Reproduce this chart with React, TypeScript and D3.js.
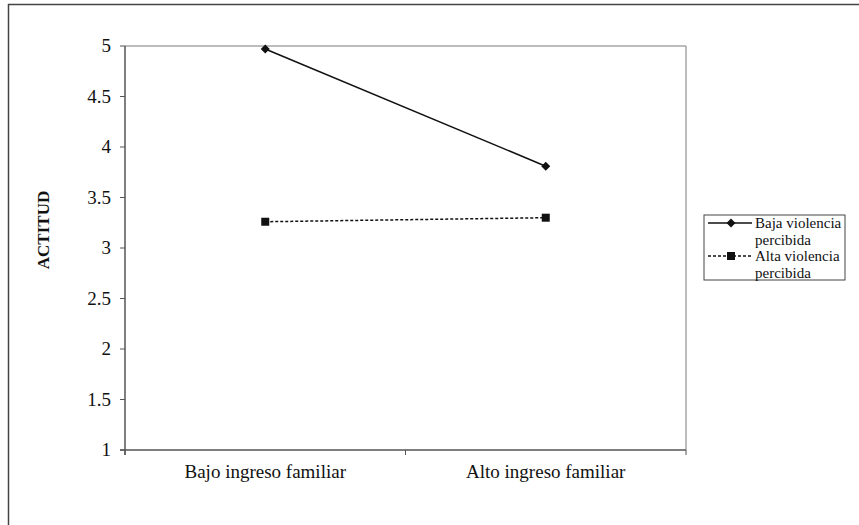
import * as d3 from 'd3';

const CATEGORIES = ['Bajo ingreso familiar', 'Alto ingreso familiar'];
const BAJA_VIOLENCIA = [4.97, 3.81];
const ALTA_VIOLENCIA = [3.26, 3.3];
const Y_TICKS = [1, 1.5, 2, 2.5, 3, 3.5, 4, 4.5, 5];
const SERIES = [
  { name: ['Baja violencia', 'percibida'], values: BAJA_VIOLENCIA, dash: null, marker: 'diamond' },
  { name: ['Alta violencia', 'percibida'], values: ALTA_VIOLENCIA, dash: '3 2', marker: 'square' },
];

const W = 859;
const H = 525;
const PLOT = { left: 125, right: 686, top: 46, bottom: 450 };
const INK = '#111111';
const FRAME = '#7a7a7a';
const FONT = "'Liberation Serif', 'DejaVu Serif', serif";

function Marker({ kind, x, y }: { kind: string; x: number; y: number }) {
  if (kind === 'square') {
    return <rect x={x - 4} y={y - 4} width={8} height={8} fill={INK} />;
  }
  return <path d={`M${x},${y - 4.5}L${x + 4.5},${y}L${x},${y + 4.5}L${x - 4.5},${y}Z`} fill={INK} />;
}

export default function App() {
  const x = d3.scaleBand().domain(CATEGORIES).range([PLOT.left, PLOT.right]).padding(0);
  const y = d3.scaleLinear().domain([1, 5]).range([PLOT.bottom, PLOT.top]);
  const cx = (c: string) => x(c)! + x.bandwidth() / 2;
  const line = d3
    .line<number>()
    .x((_, i) => cx(CATEGORIES[i]))
    .y((v) => y(v));

  const bandEdges = [...CATEGORIES.map((c) => x(c)!), PLOT.right];

  const legend = { x: 704, y: 215, w: 141, h: 65 };

  return (
    <svg
      width={W}
      height={H}
      style={{ position: 'absolute', left: 0, top: 0, background: '#fff', fontFamily: FONT }}
    >
      {/* outer chart frame, cut off at right and bottom */}
      <line x1={8.5} y1={4} x2={8.5} y2={H} stroke="#444" strokeWidth={1.5} />
      <line x1={8} y1={4.5} x2={W} y2={4.5} stroke="#444" strokeWidth={1.5} />

      {/* plot frame */}
      <line x1={PLOT.left} y1={PLOT.top} x2={PLOT.right} y2={PLOT.top} stroke={FRAME} strokeWidth={1} />
      <line x1={PLOT.right} y1={PLOT.top} x2={PLOT.right} y2={PLOT.bottom} stroke={FRAME} strokeWidth={1} />

      {/* y axis */}
      <line x1={PLOT.left} y1={PLOT.top} x2={PLOT.left} y2={PLOT.bottom + 5} stroke="#555" strokeWidth={1.5} />
      {Y_TICKS.map((t) => (
        <g key={t}>
          <line x1={PLOT.left - 5} x2={PLOT.left} y1={y(t)} y2={y(t)} stroke="#555" strokeWidth={1} />
          <text x={PLOT.left - 14} y={y(t) + 6} textAnchor="end" fontSize={19} fill={INK}>
            {t}
          </text>
        </g>
      ))}

      {/* x axis */}
      <line x1={PLOT.left - 5} y1={PLOT.bottom} x2={PLOT.right} y2={PLOT.bottom} stroke="#555" strokeWidth={1.5} />
      {bandEdges.map((e, i) => (
        <line key={i} x1={e} x2={e} y1={PLOT.bottom} y2={PLOT.bottom + 5} stroke="#555" strokeWidth={1} />
      ))}
      {CATEGORIES.map((c) => (
        <text key={c} x={cx(c)} y={PLOT.bottom + 28} textAnchor="middle" fontSize={19} fill={INK}>
          {c}
        </text>
      ))}

      <text
        transform={`translate(49,${(PLOT.top + PLOT.bottom) / 2 - 18}) rotate(-90)`}
        textAnchor="middle"
        fontSize={17}
        fontWeight="bold"
        fill={INK}
      >
        ACTITUD
      </text>

      {/* series */}
      {SERIES.map((s) => (
        <g key={s.name[0]}>
          <path
            d={line(s.values)!}
            fill="none"
            stroke={INK}
            strokeWidth={1.5}
            strokeDasharray={s.dash ?? undefined}
          />
          {s.values.map((v, i) => (
            <Marker key={i} kind={s.marker} x={cx(CATEGORIES[i])} y={y(v)} />
          ))}
        </g>
      ))}

      {/* legend */}
      <rect x={legend.x} y={legend.y} width={legend.w} height={legend.h} fill="#fff" stroke="#444" strokeWidth={1} />
      {SERIES.map((s, i) => {
        const ly = legend.y + 8 + i * 33;
        return (
          <g key={s.name[0]}>
            <line
              x1={legend.x + 4}
              x2={legend.x + 48}
              y1={ly}
              y2={ly}
              stroke={INK}
              strokeWidth={1.5}
              strokeDasharray={s.dash ?? undefined}
            />
            <Marker kind={s.marker} x={legend.x + 27} y={ly} />
            <text x={legend.x + 51} y={ly + 5} fontSize={15} fill={INK}>
              {s.name[0]}
            </text>
            <text x={legend.x + 51} y={ly + 22} fontSize={15} fill={INK}>
              {s.name[1]}
            </text>
          </g>
        );
      })}
    </svg>
  );
}
